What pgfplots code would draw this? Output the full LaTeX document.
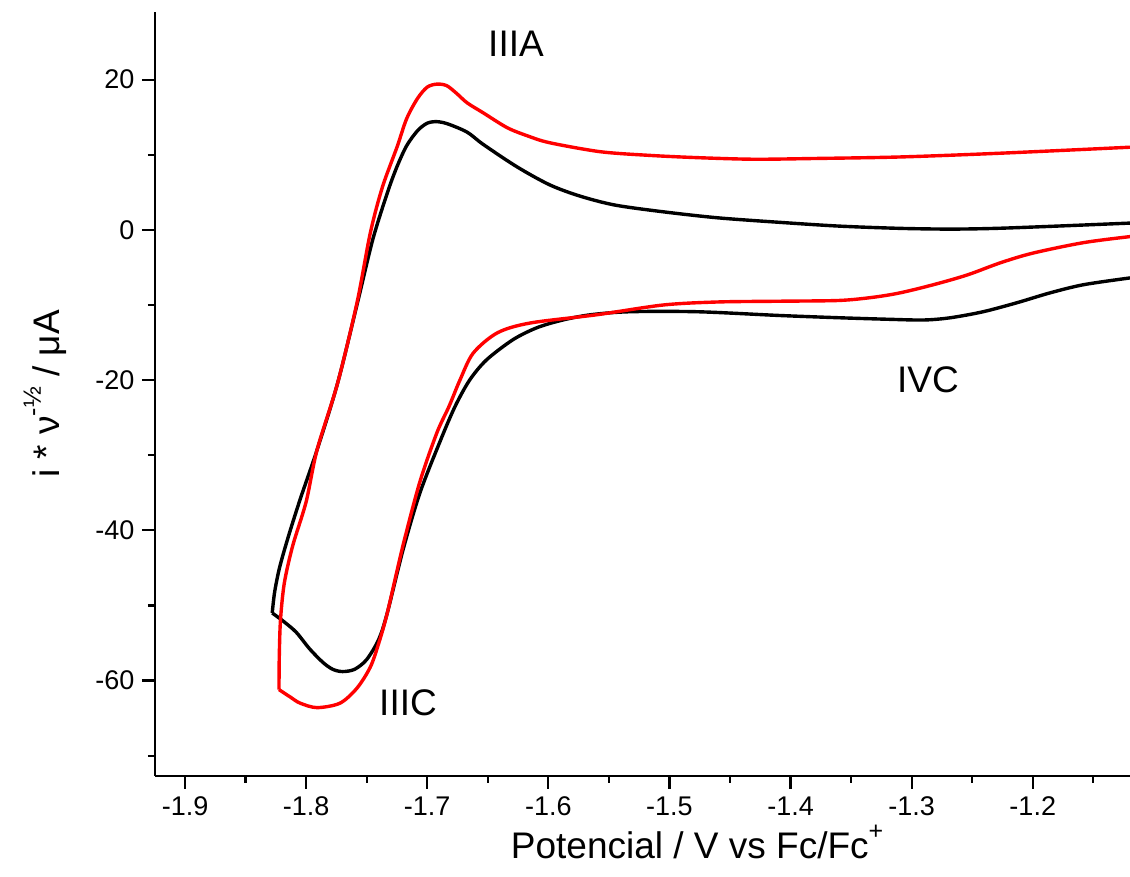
\documentclass[border=0pt]{standalone}
\usepackage{fontspec}
\setmainfont{Liberation Sans}
\usepackage{pgfplots}
\pgfplotsset{compat=1.18}
\newcommand{\sups}[1]{\raisebox{0.5em}{\fontsize{25}{27}\selectfont #1}}
\begin{document}
\begin{tikzpicture}
\path[use as bounding box] (-155pt,-101pt) rectangle (975pt,776pt);
\begin{axis}[
  scale only axis,
  width=975pt, height=764pt,
  xmin=-1.9248, xmax=-1.1197,
  ymin=-72.7, ymax=29.0,
  axis lines=left,
  axis line style={-, line width=2.2pt},
  tick align=outside,
  major tick length=13pt,
  minor tick length=7pt,
  every tick/.style={line width=2.2pt, black},
  xtick={-1.9,-1.8,-1.7,-1.6,-1.5,-1.4,-1.3,-1.2},
  xticklabels={-1.9,-1.8,-1.7,-1.6,-1.5,-1.4,-1.3,-1.2},
  minor xtick={-1.85,-1.75,-1.65,-1.55,-1.45,-1.35,-1.25,-1.15},
  ytick={-60,-40,-20,0,20},
  yticklabels={-60,-40,-20,0,20},
  minor ytick={-70,-50,-30,-10,10},
  tick label style={font=\fontsize{27}{30}\selectfont},
  xticklabel style={yshift=-4pt},
  yticklabel style={xshift=-4pt},
  xlabel={Potencial / V vs Fc/Fc\sups{+}},
  ylabel={i * ν\sups{-½} / μA},
  label style={font=\fontsize{37}{40}\selectfont},
  xlabel style={at={(axis description cs:0.556,-0.0864)}, anchor=center},
  ylabel style={at={(axis description cs:-0.1128,0.5)}, anchor=center, rotate=0},
  clip=true,
]
% black cathodic branch
\addplot[black, line width=3.4pt, smooth, tension=0.5, line join=round] coordinates {
(-1.1197,-6.4) (-1.158,-7.3) (-1.186,-8.4) (-1.213,-9.7) (-1.241,-10.9) (-1.268,-11.7)
(-1.290,-12.0) (-1.320,-11.9) (-1.360,-11.7) (-1.409,-11.4) (-1.477,-10.9) (-1.533,-10.9)
(-1.565,-11.3) (-1.588,-12.0) (-1.609,-13.0) (-1.629,-14.6) (-1.651,-17.3)
(-1.665,-20.0) (-1.677,-23.5) (-1.689,-28.0) (-1.706,-35.0) (-1.720,-42.6) (-1.733,-51.0)
(-1.740,-54.5) (-1.750,-57.2) (-1.760,-58.5) (-1.770,-58.8) (-1.778,-58.5) (-1.786,-57.6)
(-1.797,-55.8) (-1.808,-53.6) (-1.818,-52.2) (-1.828,-51.0)
};
% black anodic branch
\addplot[black, line width=3.4pt, smooth, tension=0.5, line join=round] coordinates {
(-1.828,-51.0) (-1.826,-48.2) (-1.822,-45.0) (-1.815,-41.0) (-1.805,-35.9) (-1.791,-29.3)
(-1.774,-20.4) (-1.757,-9.3) (-1.745,-1.3) (-1.733,4.9) (-1.725,8.4) (-1.717,11.2)
(-1.708,13.2) (-1.700,14.2) (-1.692,14.4) (-1.683,14.1) (-1.667,13.0) (-1.654,11.4)
(-1.626,8.4) (-1.599,6.0) (-1.574,4.5) (-1.545,3.3) (-1.505,2.4) (-1.460,1.6)
(-1.409,1.0) (-1.360,0.5) (-1.310,0.2) (-1.268,0.1) (-1.230,0.2) (-1.180,0.5) (-1.1197,0.9)
};
% red cathodic branch
\addplot[red, line width=3.4pt, smooth, tension=0.5, line join=round] coordinates {
(-1.1197,-0.9) (-1.158,-1.7) (-1.200,-3.1) (-1.227,-4.4) (-1.254,-6.0) (-1.282,-7.3)
(-1.310,-8.4) (-1.333,-9.0) (-1.360,-9.4) (-1.409,-9.5) (-1.460,-9.6)
(-1.505,-10.0) (-1.560,-11.3) (-1.615,-12.4) (-1.642,-13.7) (-1.662,-16.4) (-1.673,-20.0)
(-1.682,-23.5) (-1.692,-27.0) (-1.706,-33.5) (-1.720,-42.0) (-1.733,-51.0) (-1.740,-55.0) (-1.747,-58.2)
(-1.758,-61.0) (-1.772,-63.0) (-1.791,-63.6) (-1.805,-63.0) (-1.813,-62.2) (-1.8224,-61.2)
};
% red anodic branch
\addplot[red, line width=3.4pt, smooth, tension=0.5, line join=round] coordinates {
(-1.8224,-61.2) (-1.8222,-57.0) (-1.8212,-52.0) (-1.818,-47.0) (-1.811,-42.0) (-1.800,-36.2)
(-1.791,-29.3) (-1.774,-20.4) (-1.758,-9.7) (-1.747,-0.4) (-1.737,5.7) (-1.725,11.0)
(-1.717,14.8) (-1.708,17.5) (-1.700,19.0) (-1.692,19.4) (-1.684,19.2) (-1.676,18.2)
(-1.667,16.9) (-1.654,15.6) (-1.634,13.6) (-1.617,12.5)
(-1.599,11.6) (-1.557,10.4) (-1.515,9.9) (-1.475,9.6) (-1.430,9.4) (-1.380,9.5) (-1.310,9.7) (-1.227,10.2) (-1.1197,11.0)
};
\end{axis}
\begin{scope}[font=\fontsize{37}{40}\selectfont]
\node at (361pt,732pt) {IIIA};
\node at (253pt,73pt) {IIIC};
\node at (773pt,396pt) {IVC};
\end{scope}
\end{tikzpicture}
\end{document}
